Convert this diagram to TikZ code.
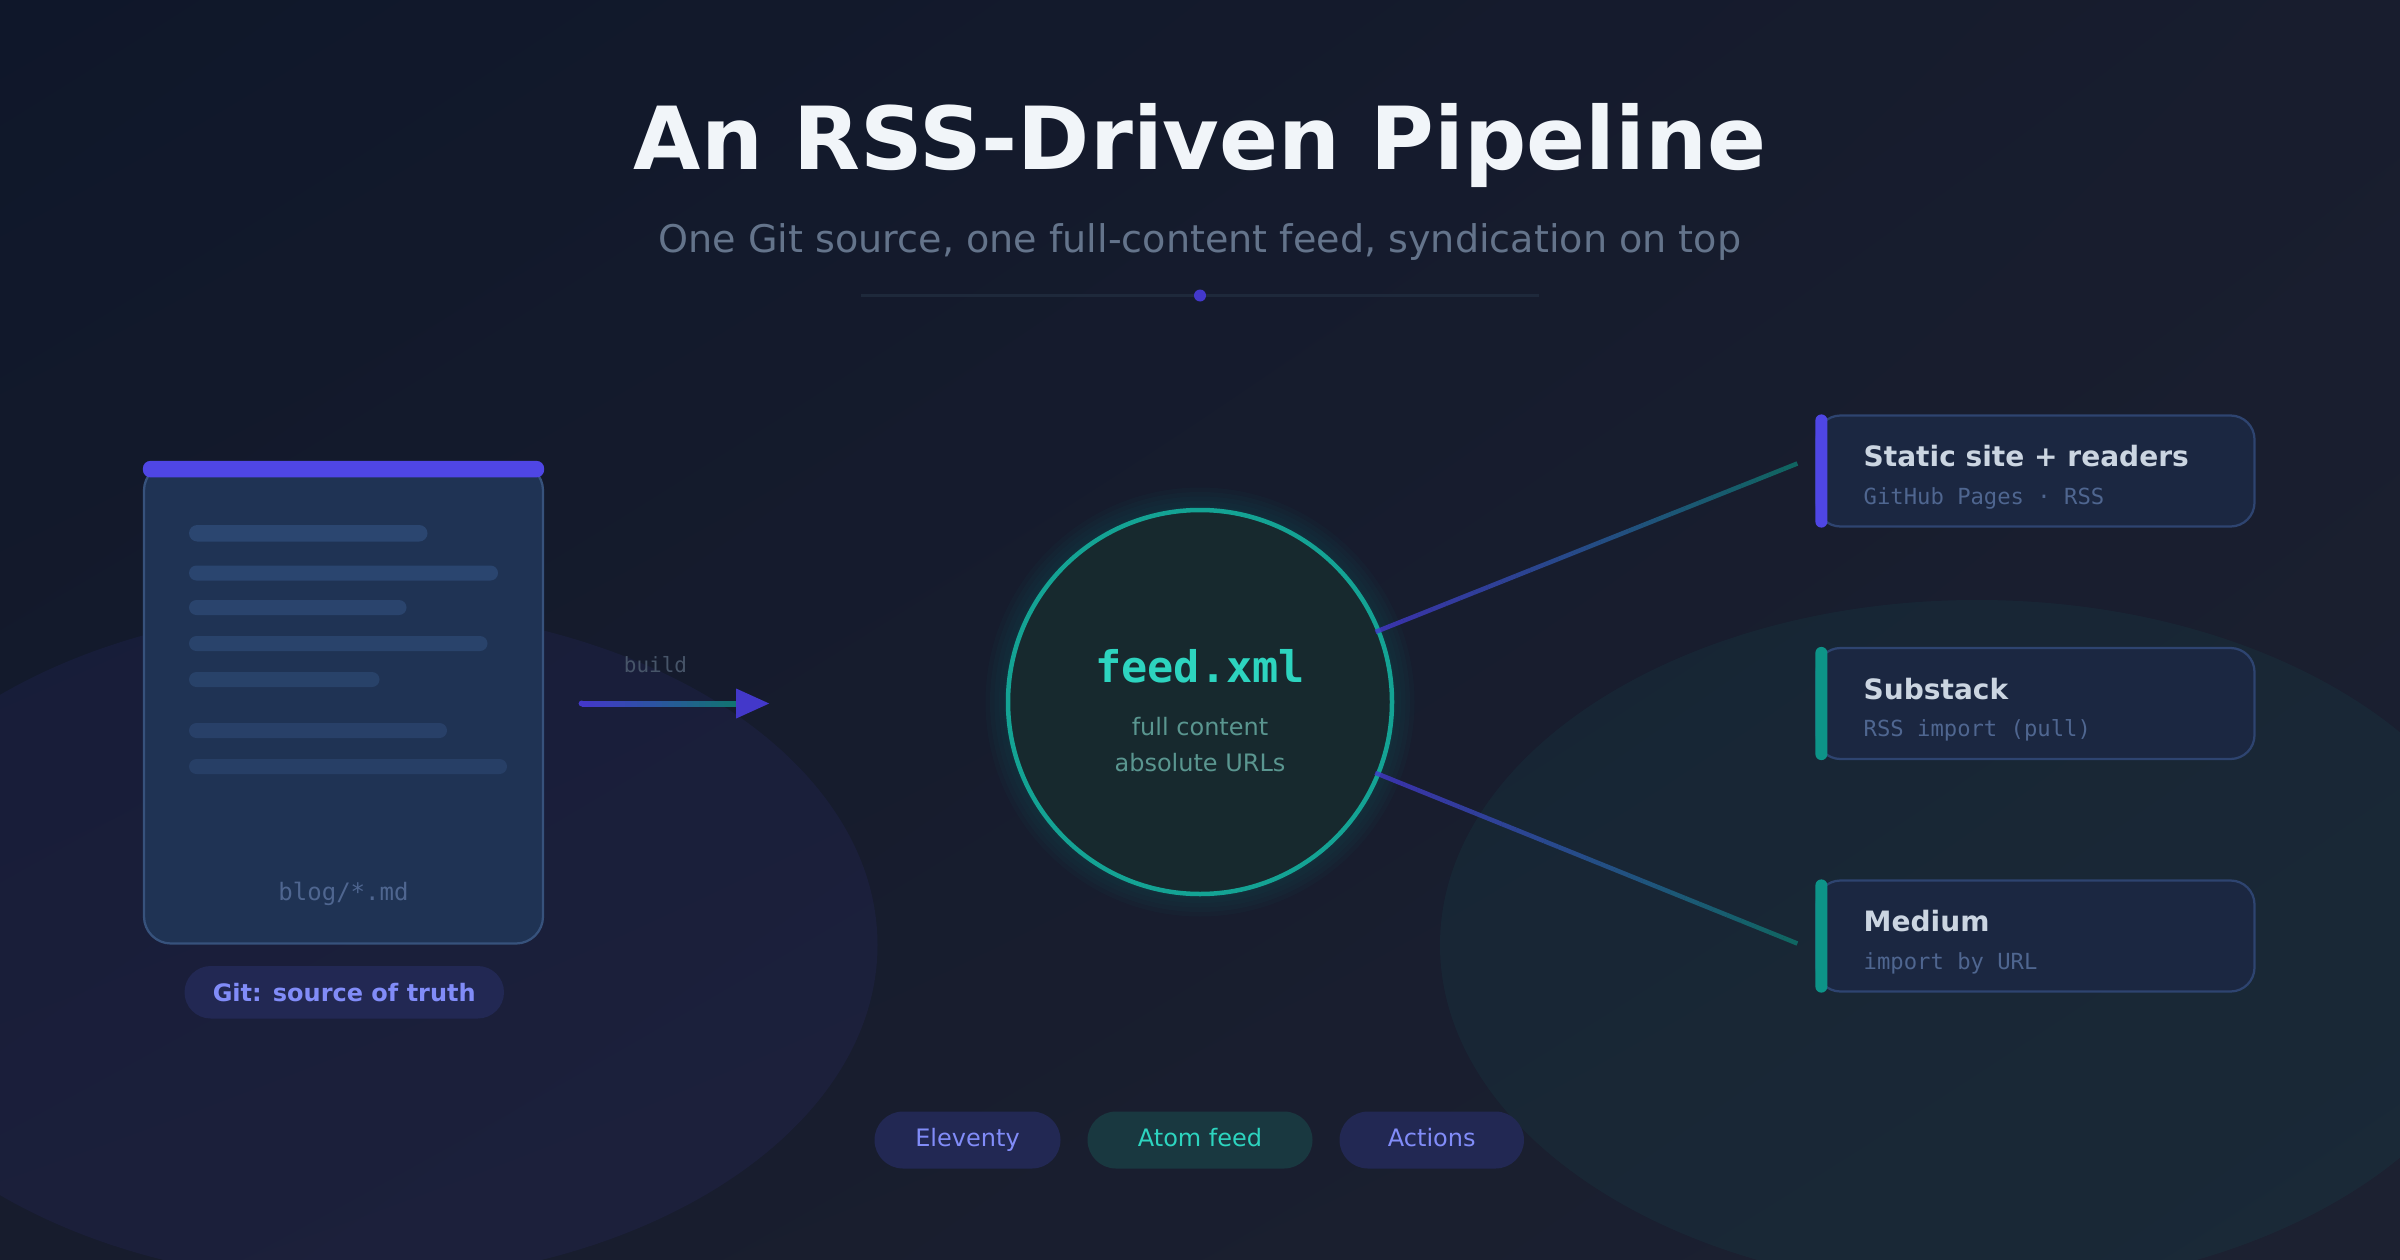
\documentclass[tikz,border=0pt]{standalone}
\usepackage{fontspec}
\setmainfont{DejaVu Sans}
\setmonofont{DejaVu Sans Mono}
\usetikzlibrary{calc,shadings}
\definecolor{bgUL}{HTML}{0F172A}
\definecolor{bgUR}{HTML}{181D2E}
\definecolor{bgLL}{HTML}{171C2D}
\definecolor{bgLR}{HTML}{1C2131}
\definecolor{indigoA}{HTML}{4F46E5}
\definecolor{indigoB}{HTML}{4338CA}
\definecolor{indigoT}{HTML}{818CF8}
\definecolor{tealA}{HTML}{0D9488}
\definecolor{tealB}{HTML}{0F766E}
\definecolor{tealT}{HTML}{2DD4BF}
\definecolor{tealS}{HTML}{14A394}
\definecolor{titleC}{HTML}{F1F5F9}
\definecolor{subC}{HTML}{64748B}
\definecolor{divC}{HTML}{1E293B}
\definecolor{docFill}{HTML}{1F3354}
\definecolor{docLine}{HTML}{37527C}
\definecolor{barC}{HTML}{2B4670}
\definecolor{monoC}{HTML}{4F6690}
\definecolor{cardFill}{HTML}{1B2741}
\definecolor{cardLine}{HTML}{2E4470}
\definecolor{cardT}{HTML}{CBD5E1}
\definecolor{circFill}{HTML}{17292E}
\definecolor{circT}{HTML}{5A9690}
\definecolor{pillI}{HTML}{222853}
\definecolor{pillT}{HTML}{193840}
\definecolor{buildC}{HTML}{475569}
\tikzset{
  rcard/.style={draw=cardLine, line width=1.5, fill=cardFill, rounded corners=16,
    minimum width=292, minimum height=74, inner sep=0},
  ctitle/.style={anchor=base west, inner sep=0, text=cardT, font=\bfseries\fontsize{18.7}{20}\selectfont},
  csub/.style={anchor=base west, inner sep=0, text=monoC, font=\ttfamily\fontsize{14.8}{16}\selectfont},
  pill/.style={inner sep=0, minimum height=38, rounded corners=19, text height=12, text depth=3.5,
    font=\fontsize{16}{18}\selectfont},
  docbar/.style={rounded corners=5},
}
\begin{document}
\begin{tikzpicture}[x=1pt,y=-1pt]
\useasboundingbox (0,0) rectangle (1600,840);
% background
\shade[upper left=bgUL, upper right=bgUR, lower left=bgLL, lower right=bgLR] (0,0) rectangle (1600,840);
\begin{scope}
\clip (0,0) rectangle (1600,840);
\fill[indigoA, opacity=0.075] (235,630) ellipse [x radius=350, y radius=225];
\fill[tealA, opacity=0.075] (1318,630) ellipse [x radius=358, y radius=230];
\end{scope}

% title
\node[anchor=base, inner sep=0, text=titleC, font=\bfseries\fontsize{58}{64}\selectfont] (title) at (800,113) {An RSS-Driven Pipeline};
\node[anchor=base, inner sep=0, text=subC, font=\fontsize{25.4}{28}\selectfont] (subtitle) at (800,168) {One Git source, one full-content feed, syndication on top};
\coordinate (dl) at (574,197);
\coordinate (dr) at (1026,197);
\draw[divC, line width=2] (dl) -- (dr);
\node[circle, fill=indigoB, minimum size=8, inner sep=0] (dot) at (800,197) {};

% document card
\node[draw=docLine, line width=1.5, fill=docFill, rounded corners=18, minimum width=266, minimum height=320, inner sep=0] (doc) at (229,469) {};
\fill[indigoA, rounded corners=5] ($(doc.north west)+(0,-1)$) rectangle ($(doc.north east)+(0,10)$);
\fill[barC, rounded corners=5.5] (126,350) rectangle (285,361);
\fill[barC!95!docFill, docbar] (126,377) rectangle (332,387);
\fill[barC!88!docFill, docbar] (126,400) rectangle (271,410);
\fill[barC!82!docFill, docbar] (126,424) rectangle (325,434);
\fill[barC!76!docFill, docbar] (126,448) rectangle (253,458);
\fill[barC!70!docFill, docbar] (126,482) rectangle (298,492);
\fill[barC!64!docFill, docbar] (126,506) rectangle (338,516);
\node[anchor=base, inner sep=0, text=monoC, font=\ttfamily\fontsize{16}{18}\selectfont] (blog) at (229,600) {blog/*.md};
\node[inner sep=0, minimum width=213, minimum height=35, rounded corners=17.5, fill=pillI, text=indigoT,
  text height=11.7, text depth=0, font=\bfseries\fontsize{16}{18}\selectfont] (git) at (229.5,661.5) {Git: source of truth};

% build arrow
\coordinate (bs) at ($(doc.east)+(25,0)$);
\coordinate (be) at ($(doc.east)+(128,0)$);
\fill[indigoB] (bs) circle (2);
\foreach \i in {0,...,24}{
  \pgfmathsetmacro\p{100-\i*4}
  \draw[line width=4, color=indigoB!\p!tealB] ($(bs)!{\i/25}!(be)$) -- ($(bs)!{(\i+1)/25}!(be)$);
}
\fill[indigoB] ($(be)+(0,-10)$) -- ($(be)+(22,0)$) -- ($(be)+(0,10)$) -- cycle;
\node[anchor=base, inner sep=0, text=buildC, font=\ttfamily\fontsize{14}{16}\selectfont] (build) at (437,448) {build};

% feed circle with glow
\foreach \r in {143,140,137,134,131}{
  \fill[tealA, opacity=0.035] (800,468) circle (\r);
}
\node[circle, minimum size=256, inner sep=0, draw=tealS, line width=3, fill=circFill] (feed) at (800,468) {};
\node[anchor=base, inner sep=0, text=tealT, font=\ttfamily\bfseries\fontsize{29}{32}\selectfont] (feedT) at (800,455) {feed.xml};
\node[anchor=base, inner sep=0, text=circT, font=\fontsize{16}{18}\selectfont] (feedS1) at (800,490) {full content};
\node[anchor=base, inner sep=0, text=circT, font=\fontsize{16}{18}\selectfont] (feedS2) at (800,514) {absolute URLs};

% right cards
\node[rcard] (site) at (1357,314) {};
\fill[indigoA, rounded corners=4] (site.north west) rectangle ($(site.south west)+(8,0)$);
\node[ctitle] (siteT) at ($(site.west)+(32,-3)$) {Static site + readers};
\node[csub] (siteS) at ($(site.west)+(32,22)$) {GitHub Pages · RSS};

\node[rcard] (sub) at (1357,469) {};
\fill[tealA, rounded corners=4] (sub.north west) rectangle ($(sub.south west)+(8,0)$);
\node[ctitle] (subT) at ($(sub.west)+(32,-3)$) {Substack};
\node[csub] (subS) at ($(sub.west)+(32,22)$) {RSS import (pull)};

\node[rcard] (med) at (1357,624) {};
\fill[tealA, rounded corners=4] (med.north west) rectangle ($(med.south west)+(8,0)$);
\node[ctitle] (medT) at ($(med.west)+(32,-3)$) {Medium};
\node[csub] (medS) at ($(med.west)+(32,22)$) {import by URL};

% connectors
\coordinate (e1) at ($(site.west)+(-12,-5)$);
\coordinate (e2) at ($(med.west)+(-12,5)$);
\coordinate (s1) at ($(feed.center)!126pt!(e1)$);
\coordinate (s2) at ($(feed.center)!126pt!(e2)$);
\foreach \a/\b in {s1/e1, s2/e2}{
  \foreach \i in {0,...,29}{
    \pgfmathsetmacro\p{100-\i*100/29}
    \draw[line width=3, color=indigoB!\p!tealB, opacity=0.8] ($(\a)!{\i/30}!(\b)$) -- ($(\a)!{(\i+1)/30}!(\b)$);
  }
}

% bottom pills
\node[pill, minimum width=124, fill=pillI, text=indigoT] (p1) at (645,760) {Eleventy};
\node[pill, minimum width=150, fill=pillT, text=tealT] (p2) at (800,760) {Atom feed};
\node[pill, minimum width=123, fill=pillI, text=indigoT] (p3) at (954.5,760) {Actions};
\end{tikzpicture}
\end{document}
